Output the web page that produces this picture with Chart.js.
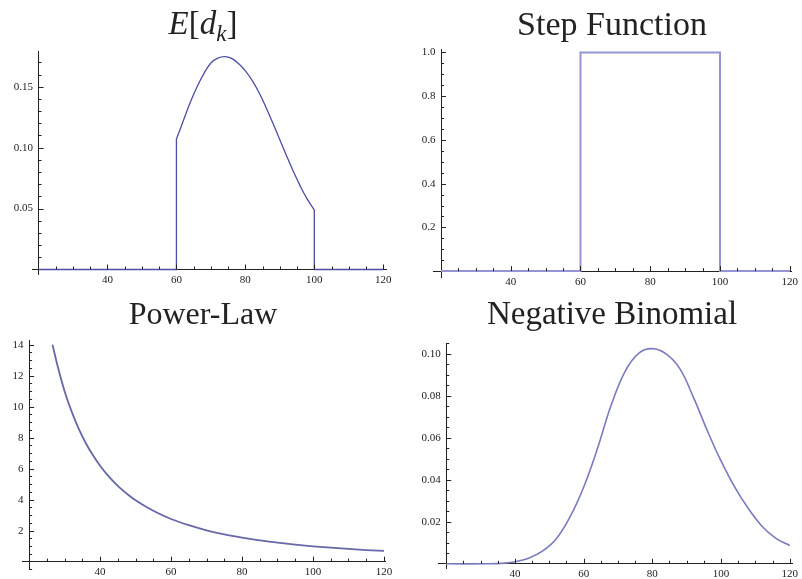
<!DOCTYPE html>
<html>
<head>
<meta charset="utf-8">
<script src="https://cdn.jsdelivr.net/npm/chart.js@4.4.0/dist/chart.umd.min.js"></script>
<style>
  html, body { margin: 0; padding: 0; background: #fff; overflow: hidden; }
  .cell { position: absolute; width: 401px; height: 290px; }
  .title {
    position: absolute; transform: translateX(-50%); white-space: nowrap;
    font-family: "Liberation Serif", serif; font-size: 33px; line-height: 33px; color: #222;
  }
  .title sub { font-size: 0.7em; vertical-align: -0.3em; line-height: 0; }
</style>
</head>
<body>
<div class="cell" style="left:0;top:0"><canvas id="dk_chart"></canvas></div>
<div class="cell" style="left:401px;top:0"><canvas id="step_chart"></canvas></div>
<div class="cell" style="left:0;top:290px;height:289px"><canvas id="pow_chart"></canvas></div>
<div class="cell" style="left:401px;top:290px;height:289px"><canvas id="nb_chart"></canvas></div>

<div class="title" style="left:203px;top:7px"><i>E</i>[<i>d</i><sub><i>k</i></sub>]</div>
<div class="title" style="left:612px;top:7px;font-size:34px">Step Function</div>
<div class="title" style="left:203px;top:297px;font-size:32px">Power-Law</div>
<div class="title" style="left:612px;top:297px">Negative Binomial</div>

<script>
const xRange = [20, 120];
const xTickLabels = ['40', '60', '80', '100', '120'];

// E[d_k]
const dkX = [60, 62, 64, 66, 68, 70, 72, 74, 76, 78, 80, 82, 84, 86, 88, 90, 92, 94, 96, 98, 100];
const dkY = [0.107, 0.122, 0.137, 0.150, 0.161, 0.1695, 0.1735, 0.1747, 0.1733, 0.169, 0.163, 0.155, 0.145,
             0.133, 0.120, 0.1065, 0.093, 0.080, 0.068, 0.0575, 0.049];
const dkTickLabels = ['0.05', '0.10', '0.15'];

// step function
const stepX = [20, 60, 60, 100, 100, 120];
const stepY = [0, 0, 1, 1, 0, 0];
const stepTickLabels = ['0.2', '0.4', '0.6', '0.8', '1.0'];

// power law
const powX = [26.6, 28, 30, 32, 34, 36, 38, 40, 42, 45, 48, 50, 55, 60, 65, 70, 75, 80, 85, 90, 95, 100, 105, 110, 115, 120];
const powY = [14.0, 12.65, 11.0, 9.68, 8.57, 7.64, 6.86, 6.19, 5.62, 4.89, 4.3, 3.96, 3.28, 2.75, 2.35, 2.02, 1.76,
              1.55, 1.37, 1.23, 1.1, 0.99, 0.9, 0.82, 0.75, 0.69];
const powTickLabels = ['2', '4', '6', '8', '10', '12', '14'];

// negative binomial
const nbX = [20, 32, 36, 40, 44, 48, 52, 56, 60, 64, 68, 72, 76, 80, 84, 88, 92, 96, 100, 104, 108, 112, 116, 120];
const nbY = [0, 0, 0.0002, 0.001, 0.0027, 0.006, 0.0118, 0.0222, 0.0365, 0.0548, 0.0755, 0.0915, 0.1003, 0.1025,
             0.1, 0.093, 0.0792, 0.0635, 0.049, 0.0365, 0.0262, 0.0178, 0.0121, 0.0087];
const nbTickLabels = ['0.02', '0.04', '0.06', '0.08', '0.10'];

const pts = (xs, ys) => xs.map((x, i) => ({x: x, y: ys[i]}));

function pickLabel(labels, gap) {
  return value => {
    const hit = labels.find(l => Math.abs(parseFloat(l) - value) < 1e-7);
    return hit ? hit + gap : '';
  };
}

// mathematica style ticks, pointing into the plot
const innerTicks = {
  id: 'innerTicks',
  afterDraw(chart) {
    const {ctx, scales: {x, y}} = chart;
    const x0 = x.getPixelForValue(xRange[0]);
    const y0 = y.getPixelForValue(0);
    ctx.save();
    ctx.strokeStyle = '#222';
    ctx.lineWidth = 1;
    ctx.beginPath();
    x.ticks.forEach(t => {
      if (Math.abs(t.value - xRange[0]) < 1e-9) return;
      const px = Math.round(x.getPixelForValue(t.value)) + 0.5;
      ctx.moveTo(px, y0);
      ctx.lineTo(px, y0 - (t.label ? 5 : 3));
    });
    y.ticks.forEach(t => {
      if (Math.abs(t.value) < 1e-9) return;
      const py = Math.round(y.getPixelForValue(t.value)) + 0.5;
      ctx.moveTo(x0, py);
      ctx.lineTo(x0 + (t.label ? 5 : 3), py);
    });
    ctx.stroke();
    ctx.restore();
  }
};

function makeChart(id, datasets, ax) {
  const tickFont = {family: '"Liberation Serif", serif', size: 11};
  return new Chart(document.getElementById(id), {
    type: 'line',
    data: {datasets: datasets},
    options: {
      responsive: true,
      maintainAspectRatio: false,
      animation: false,
      layout: {padding: ax.padding},
      plugins: {legend: {display: false}, tooltip: {enabled: false}},
      elements: {point: {radius: 0}},
      scales: {
        x: {
          type: 'linear',
          position: {y: 0},
          min: ax.xMin, max: ax.xMax,
          grid: {display: false, drawTicks: false},
          border: {display: true, color: '#222', width: 1},
          ticks: {
            stepSize: 5, includeBounds: false, autoSkip: false, maxRotation: 0,
            padding: 4, color: '#222', font: tickFont,
            callback: pickLabel(xTickLabels, '')
          }
        },
        y: {
          type: 'linear',
          position: {x: xRange[0]},
          min: ax.yMin, max: ax.yMax,
          grid: {display: false, drawTicks: false},
          border: {display: true, color: '#222', width: 1},
          ticks: {
            stepSize: ax.yStep, includeBounds: false, autoSkip: false,
            color: '#222', font: tickFont,
            // labels sit right on the moved axis, so leave a gap with spaces
            callback: pickLabel(ax.yLabels, '\u00a0\u00a0')
          }
        }
      }
    },
    plugins: [innerTicks]
  });
}

const dkColor = '#4d4da6';
makeChart('dk_chart', [
  {data: pts(dkX, dkY), borderColor: dkColor, borderWidth: 1.3, tension: 0.4},
  {data: [{x: xRange[0], y: 0}, {x: dkX[0], y: 0}, {x: dkX[0], y: dkY[0]}], borderColor: dkColor, borderWidth: 1.3},
  {data: [{x: dkX[dkX.length - 1], y: dkY[dkY.length - 1]}, {x: dkX[dkX.length - 1], y: 0}, {x: xRange[1], y: 0}],
   borderColor: dkColor, borderWidth: 1.3}
], {xMin: 18.1, xMax: 120.8, yMin: -0.0037, yMax: 0.1793, yStep: 0.01, yLabels: dkTickLabels,
    padding: {left: 32, right: 15, top: 51, bottom: 16}});

makeChart('step_chart', [
  {data: pts(stepX, stepY), borderColor: '#9494d4', borderWidth: 2}
], {xMin: 17.7, xMax: 120.5, yMin: -0.027, yMax: 1.016, yStep: 0.05, yLabels: stepTickLabels,
    padding: {left: 32, right: 7, top: 49, bottom: 13}});

makeChart('pow_chart', [
  {data: pts(powX, powY), borderColor: '#6767ab', borderWidth: 1.8, cubicInterpolationMode: 'monotone'}
], {xMin: 18.0, xMax: 120.3, yMin: -0.5, yMax: 14.3, yStep: 0.5, yLabels: powTickLabels,
    padding: {left: 22, right: 16, top: 50, bottom: 6}});

makeChart('nb_chart', [
  {data: pts(nbX, nbY), borderColor: '#7a7ac2', borderWidth: 1.6, tension: 0.4}
], {xMin: 17.6, xMax: 120.8, yMin: -0.002, yMax: 0.1052, yStep: 0.005, yLabels: nbTickLabels,
    padding: {left: 37, right: 5, top: 53, bottom: 11}});
</script>
</body>
</html>
